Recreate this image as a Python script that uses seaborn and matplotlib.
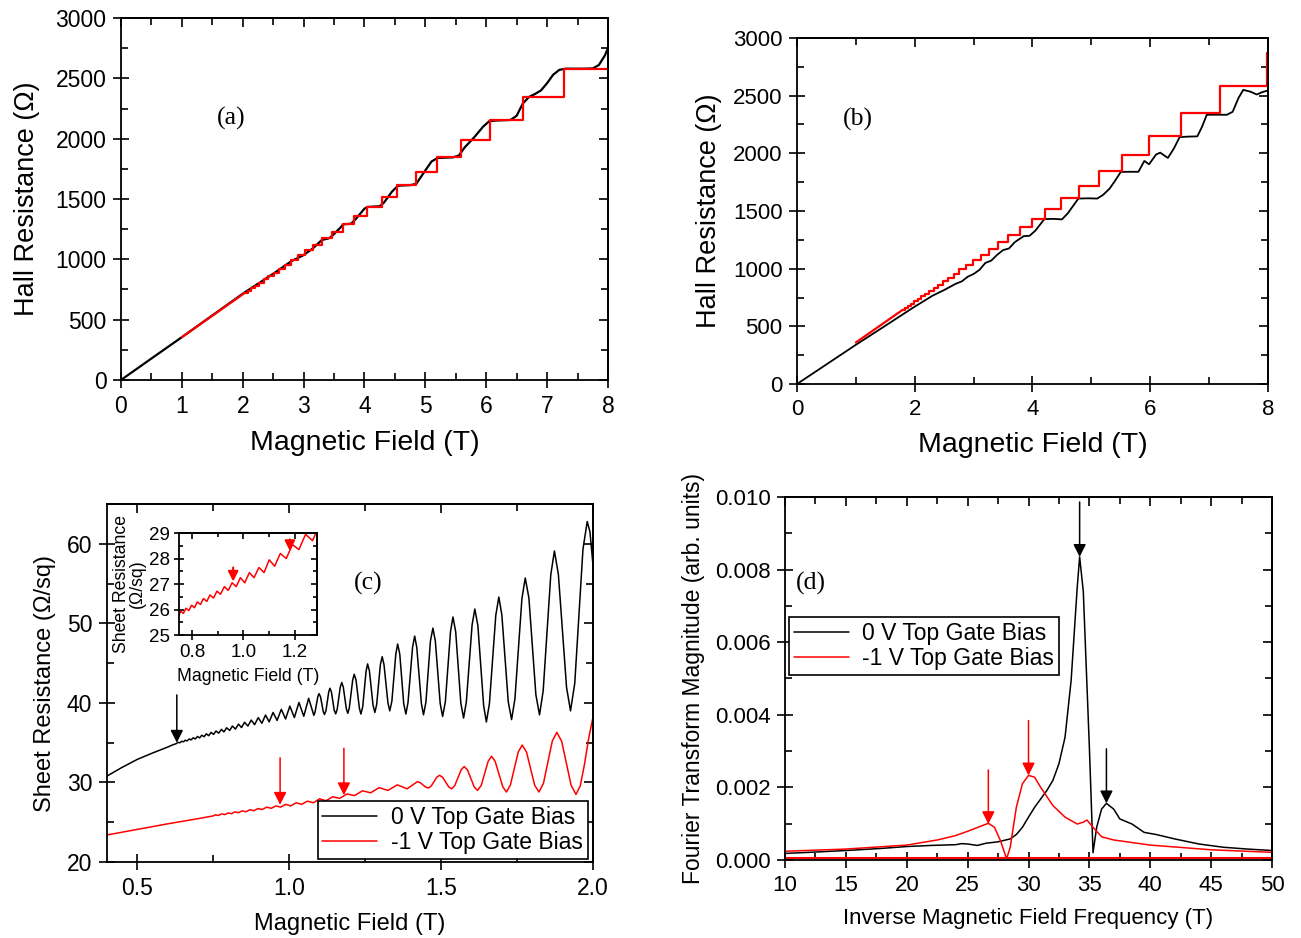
import numpy as np
import pandas as pd
import matplotlib
matplotlib.use("Agg")
import matplotlib.pyplot as plt
import seaborn as sns
from matplotlib.ticker import MultipleLocator, FormatStrFormatter

# ---------------- Panel (a) ----------------
a_black_B = [0.0, 0.5, 1.0, 1.5, 2.0, 2.5, 2.8, 3.0, 3.15, 3.3, 3.42, 3.47, 3.6, 3.65, 3.78, 3.85,
             4.0, 4.05, 4.25, 4.32, 4.45, 4.55, 4.75, 4.85, 4.95, 5.1, 5.2, 5.45, 5.55, 5.65, 5.8,
             5.95, 6.05, 6.15, 6.4, 6.5, 6.6, 6.7, 6.8, 6.9, 7.0, 7.1, 7.2, 7.3, 7.6, 7.75, 7.85, 7.95, 8.0]
a_black_R = [0, 178, 355, 535, 715, 880, 985, 1035, 1090, 1160, 1175, 1195, 1260, 1290, 1295, 1330,
             1420, 1434, 1440, 1470, 1560, 1610, 1615, 1625, 1700, 1810, 1840, 1845, 1860, 1930, 2010,
             2100, 2145, 2150, 2155, 2190, 2290, 2345, 2370, 2400, 2460, 2530, 2570, 2580, 2580, 2582,
             2610, 2690, 2750]
a_red_line_B = [1.0, 2.02]
a_red_line_R = [355, 717]
a_red_step_B = [2.02, 2.08, 2.14, 2.20, 2.27, 2.35, 2.42, 2.51, 2.60, 2.69, 2.80, 2.91, 3.03, 3.16,
                3.30, 3.46, 3.64, 3.83, 4.04, 4.28, 4.54, 4.85, 5.19, 5.59, 6.06, 6.61, 7.27, 8.0]
a_red_step_R = [717, 738, 759, 782, 807, 833, 860, 890, 922, 956, 993, 1033, 1076, 1122,
                1173, 1229, 1291, 1359, 1434, 1518, 1613, 1721, 1844, 1986, 2151, 2347, 2581, 2581]

# ---------------- Panel (b) ----------------
b_black_B = [0, 1.0, 1.5, 2.0, 2.3, 2.5, 2.7, 2.8, 2.9, 3.0, 3.1, 3.2, 3.3, 3.4, 3.5, 3.6, 3.7, 3.85,
             3.95, 4.05, 4.2, 4.35, 4.5, 4.6, 4.78, 4.95, 5.1, 5.2, 5.31, 5.4, 5.5, 5.65, 5.8, 5.9,
             5.98, 6.1, 6.17, 6.3, 6.4, 6.5, 6.65, 6.8, 6.88, 6.96, 7.1, 7.3, 7.4, 7.5, 7.58, 7.7,
             7.81, 7.9, 8.0]
b_black_R = [0, 340, 505, 671, 765, 815, 870, 890, 930, 954, 990, 1050, 1070, 1120, 1161, 1175, 1230,
             1282, 1285, 1330, 1429, 1432, 1427, 1480, 1608, 1610, 1608, 1640, 1694, 1760, 1839, 1840,
             1840, 1934, 1905, 1990, 2006, 1960, 2040, 2141, 2145, 2147, 2230, 2334, 2335, 2334, 2360,
             2480, 2550, 2535, 2510, 2530, 2545]
b_red_line_B = [1.0, 1.80]
b_red_line_R = [360, 645]
b_red_step_B = [1.80, 1.84, 1.89, 1.94, 1.99, 2.05, 2.11, 2.18, 2.24, 2.32, 2.39, 2.48, 2.56, 2.66,
                2.76, 2.87, 2.99, 3.12, 3.26, 3.42, 3.59, 3.78, 3.99, 4.22, 4.49, 4.79, 5.13, 5.52,
                5.98, 6.53, 7.18, 7.98, 8.0]
b_red_step_R = [645, 662, 679, 698, 717, 738, 759, 782, 807, 833, 860, 890, 922, 956,
                993, 1033, 1076, 1122, 1173, 1229, 1291, 1359, 1434, 1518, 1613, 1721, 1844, 1986,
                2151, 2347, 2581, 2868, 2868]

# ---------------- Panel (c) ----------------
c_black_B = [0.40, 0.45, 0.50, 0.55, 0.60, 0.615,
             0.628, 0.634, 0.640, 0.646, 0.652, 0.658, 0.664, 0.671, 0.677, 0.684, 0.691, 0.698,
             0.705, 0.712, 0.720, 0.727, 0.735, 0.743, 0.751, 0.759, 0.768, 0.777, 0.785, 0.794,
             0.804, 0.813, 0.823, 0.833, 0.843, 0.853, 0.864, 0.875, 0.886, 0.898, 0.910, 0.922,
             0.934, 0.947, 0.960, 0.974, 0.988, 1.002, 1.017, 1.032, 1.048, 1.064,
             1.081, 1.085, 1.094, 1.098, 1.103, 1.112, 1.116, 1.121, 1.130, 1.134, 1.139, 1.148,
             1.153, 1.158, 1.168, 1.173, 1.178, 1.188, 1.193, 1.198, 1.209, 1.214, 1.220, 1.231,
             1.236, 1.242, 1.253, 1.258, 1.264, 1.276, 1.282, 1.288, 1.300, 1.306, 1.312, 1.325,
             1.331, 1.338, 1.351, 1.357, 1.364, 1.377, 1.384, 1.391, 1.406, 1.413, 1.420, 1.435,
             1.442, 1.450, 1.465, 1.473, 1.481, 1.497, 1.505, 1.514, 1.531, 1.539, 1.548, 1.565,
             1.574, 1.583, 1.602, 1.611, 1.621, 1.640, 1.649, 1.659, 1.680, 1.690, 1.700, 1.721,
             1.732, 1.743, 1.766, 1.777, 1.789, 1.812, 1.824, 1.836, 1.861, 1.873, 1.886, 1.913,
             1.926, 1.940, 1.967, 1.981, 1.990, 2.000]
c_black_R = [30.8, 31.9, 32.9, 33.7, 34.45, 34.70,
             34.88, 35.04, 34.99, 35.18, 35.11, 35.31, 35.22, 35.47, 35.35, 35.61, 35.47, 35.78,
             35.60, 35.93, 35.75, 36.11, 35.88, 36.29, 36.04, 36.47, 36.20, 36.68, 36.35, 36.87,
             36.54, 37.09, 36.71, 37.33, 36.90, 37.56, 37.09, 37.84, 37.26, 38.15, 37.44, 38.47,
             37.62, 38.80, 37.80, 39.19, 37.98, 39.59, 38.16, 40.05, 38.32, 40.58,
             38.44, 38.84, 40.76, 41.16, 40.78, 38.92, 38.54, 39.02, 41.36, 41.84, 41.37, 39.09,
             38.62, 39.20, 41.98, 42.56, 41.99, 39.26, 38.69, 39.41, 42.88, 43.60, 42.87, 39.33,
             38.60, 39.52, 43.98, 44.90, 44.01, 39.69, 38.80, 39.82, 44.78, 45.80, 44.81, 39.99,
             39.00, 40.23, 46.17, 47.40, 46.12, 39.88, 38.60, 40.03, 46.97, 48.40, 46.95, 39.95,
             38.50, 40.09, 47.81, 49.40, 47.78, 39.92, 38.30, 40.13, 48.97, 50.80, 48.95, 39.95,
             38.10, 40.10, 49.80, 51.80, 49.73, 39.67, 37.60, 39.89, 51.01, 53.30, 51.05, 40.15,
             37.90, 40.50, 53.10, 55.70, 53.19, 41.01, 38.50, 41.51, 56.09, 59.10, 56.17, 41.93,
             39.00, 42.47, 59.33, 62.80, 61.50, 57.30]
c_red_B = [0.40, 0.50, 0.60, 0.70, 0.75,
           0.757, 0.767, 0.777, 0.788, 0.799, 0.810, 0.821, 0.833, 0.845, 0.858, 0.870, 0.884,
           0.897, 0.911, 0.926, 0.941, 0.956, 0.972, 0.988, 1.005, 1.023, 1.041, 1.060, 1.080,
           1.100, 1.121, 1.143, 1.166, 1.190, 1.215, 1.241, 1.268, 1.296, 1.325, 1.356, 1.388,
           1.422, 1.431, 1.449, 1.458, 1.467, 1.486, 1.495, 1.505, 1.525, 1.535, 1.545, 1.566,
           1.576, 1.587, 1.609, 1.620, 1.632, 1.655, 1.666, 1.678, 1.703, 1.715, 1.728, 1.754,
           1.767, 1.781, 1.808, 1.822, 1.837, 1.866, 1.881, 1.897, 1.928, 1.944, 1.958, 1.972,
           1.986, 2.000]
c_red_R = [23.4, 24.1, 24.8, 25.45, 25.8,
           25.93, 25.85, 26.05, 25.96, 26.17, 26.07, 26.30, 26.20, 26.43, 26.32, 26.57, 26.45,
           26.72, 26.60, 26.90, 26.75, 27.05, 26.90, 27.25, 27.05, 27.45, 27.25, 27.65, 27.45,
           27.95, 27.70, 28.20, 28.00, 28.55, 28.35, 28.95, 28.70, 29.35, 29.00, 29.70, 29.20,
           30.10, 29.98, 29.42, 29.30, 29.53, 30.67, 30.90, 30.65, 29.45, 29.20, 29.61, 31.59,
           32.00, 31.56, 29.44, 29.00, 29.63, 32.67, 33.30, 32.64, 29.46, 28.80, 29.66, 33.84,
           34.70, 33.84, 29.66, 28.80, 29.90, 35.20, 36.30, 35.16, 29.64, 28.50, 29.56, 32.28,
           35.59, 38.20]

# ---------------- Panel (d) ----------------
d_black_f = [10, 12, 15, 18, 20, 22, 24, 24.5, 25, 25.8, 26.5, 27.5, 28.5, 29.0, 29.5, 30, 30.5, 31,
             31.5, 32, 32.5, 33, 33.5, 34, 34.2, 34.5, 35, 35.3, 35.6, 36, 36.4, 37, 37.5, 38.5,
             39.5, 40.5, 42, 44, 46, 48, 50]
d_black_M = [0.00018, 0.00021, 0.00026, 0.00032, 0.00037, 0.00040, 0.00042, 0.00045, 0.00044,
             0.00040, 0.00046, 0.00050, 0.00058, 0.00070, 0.00090, 0.00118, 0.00145, 0.00168,
             0.00191, 0.00219, 0.00265, 0.00338, 0.00494, 0.00750, 0.00835, 0.00740, 0.00310,
             0.00020, 0.00090, 0.00140, 0.00156, 0.00140, 0.00113, 0.00099, 0.00076, 0.00070,
             0.00058, 0.00044, 0.00035, 0.00030, 0.00026]
d_red_f = [10, 15, 20, 22.5, 24, 25, 26, 26.7, 27.2, 27.7, 28.2, 28.5, 29, 29.5, 30, 30.5, 31, 32,
           33, 34, 34.5, 34.8, 35.3, 36, 37, 40, 45, 50]
d_red_M = [0.00024, 0.00030, 0.00041, 0.00055, 0.00067, 0.00079, 0.00092, 0.00101, 0.00090,
           0.00053, 0.00003, 0.00035, 0.00145, 0.00210, 0.00233, 0.00228, 0.00200, 0.00150,
           0.00118, 0.00099, 0.00104, 0.00110, 0.00090, 0.00064, 0.00055, 0.00041, 0.00028, 0.00021]
d_red_baseline = 0.00005

legend_labels = ["0 V Top Gate Bias", "-1 V Top Gate Bias"]

# ---------------- style ----------------
sns.set_style("ticks")
plt.rcParams.update({
    "axes.edgecolor": "black", "xtick.color": "black", "ytick.color": "black",
    "text.color": "black", "axes.labelcolor": "black", "axes.linewidth": 1.3,
})
plt.rcParams['font.family'] = ['Liberation Sans', 'DejaVu Sans']

fig = plt.figure(figsize=(13.01, 9.38), dpi=100)
axA = fig.add_axes([0.0930, 0.5949, 0.3743, 0.3859])
axB = fig.add_axes([0.6126, 0.5906, 0.3620, 0.3689])
axC = fig.add_axes([0.0822, 0.0810, 0.3736, 0.3817])
axD = fig.add_axes([0.6034, 0.0832, 0.3743, 0.3870])
axIn = fig.add_axes([0.1376, 0.3230, 0.1060, 0.1087])


def style(ax, xmaj, xmin, ymaj, ymin, fs, maj=11, mnr=5, pad=5):
    ax.xaxis.set_major_locator(MultipleLocator(xmaj))
    ax.xaxis.set_minor_locator(MultipleLocator(xmin))
    ax.yaxis.set_major_locator(MultipleLocator(ymaj))
    ax.yaxis.set_minor_locator(MultipleLocator(ymin))
    ax.tick_params(which='major', direction='inout', length=maj, width=1.2, labelsize=fs, pad=pad)
    ax.tick_params(which='minor', direction='in', length=mnr, width=1.2)
    for s in ax.spines.values():
        s.set_visible(True)
        s.set_linewidth(1.3)
    sx = ax.secondary_xaxis('top')
    sx.xaxis.set_major_locator(MultipleLocator(xmaj))
    sx.xaxis.set_minor_locator(MultipleLocator(xmin))
    sx.tick_params(which='major', direction='in', length=maj * 0.6, width=1.2, labeltop=False)
    sx.tick_params(which='minor', direction='in', length=mnr, width=1.2)
    sy = ax.secondary_yaxis('right')
    sy.yaxis.set_major_locator(MultipleLocator(ymaj))
    sy.yaxis.set_minor_locator(MultipleLocator(ymin))
    sy.tick_params(which='major', direction='in', length=maj * 0.6, width=1.2, labelright=False)
    sy.tick_params(which='minor', direction='in', length=mnr, width=1.2)


def line(ax, x, y, color, lw, **kw):
    sns.lineplot(x=x, y=y, ax=ax, color=color, lw=lw, estimator=None, sort=False, **kw)


def arrow(ax, x, y_tail, y_tip, color, ms=10, lw=1.1):
    ax.annotate("", xy=(x, y_tip), xytext=(x, y_tail),
                arrowprops=dict(arrowstyle="-|>,head_width=0.38,head_length=0.75", color=color,
                                lw=lw, shrinkA=0, shrinkB=0, mutation_scale=ms))

# ---- (a)
line(axA, a_black_B, a_black_R, "black", 1.6)
line(axA, a_red_line_B, a_red_line_R, "red", 1.6)
line(axA, a_red_step_B, a_red_step_R, "red", 1.6, drawstyle="steps-post")
axA.set_xlim(0, 8)
axA.set_ylim(0, 3000)
style(axA, 1, 0.5, 500, 250, 16.5)
axA.set_xlabel("Magnetic Field (T)", fontsize=20.5, labelpad=9)
axA.set_ylabel("Hall Resistance (Ω)", fontsize=19.5, labelpad=11)
axA.text(0.227, 0.722, "(a)", transform=axA.transAxes, fontsize=18.5,
         family=['Liberation Serif'], ha='center', va='center')

# ---- (b)
line(axB, b_black_B, b_black_R, "black", 1.3)
line(axB, b_red_line_B, b_red_line_R, "red", 1.6)
line(axB, b_red_step_B, b_red_step_R, "red", 1.6, drawstyle="steps-post")
axB.set_xlim(0, 8)
axB.set_ylim(0, 3000)
style(axB, 2, 1, 500, 250, 16)
axB.set_xlabel("Magnetic Field (T)", fontsize=20.5, labelpad=9)
axB.set_ylabel("Hall Resistance (Ω)", fontsize=19.5, labelpad=8)
axB.text(0.13, 0.764, "(b)", transform=axB.transAxes, fontsize=18.5,
         family=['Liberation Serif'], ha='center', va='center')

# ---- (c)
line(axC, c_black_B, c_black_R, "black", 1.1, label=legend_labels[0])
line(axC, c_red_B, c_red_R, "red", 1.1, label=legend_labels[1])
axC.set_xlim(0.4, 2.0)
axC.set_ylim(20, 65)
style(axC, 0.5, 0.25, 10, 5, 16.5)
axC.xaxis.set_major_formatter(FormatStrFormatter('%.1f'))
axC.set_xlabel("Magnetic Field (T)", fontsize=17, labelpad=10)
axC.set_ylabel("Sheet Resistance (Ω/sq)", fontsize=17, labelpad=8)
axC.text(0.538, 0.779, "(c)", transform=axC.transAxes, fontsize=18.5,
         family=['Liberation Serif'], ha='center', va='center')
arrow(axC, 0.63, 41.0, 35.0, "black")
arrow(axC, 0.97, 33.1, 27.2, "red")
arrow(axC, 1.18, 34.3, 28.4, "red")
legC = axC.legend(loc='lower right', bbox_to_anchor=(0.989, 0.009), fontsize=16.5, frameon=True,
                  fancybox=False, edgecolor='black', framealpha=1, handlelength=2.4,
                  borderpad=0.2, labelspacing=0.1, handletextpad=0.6, borderaxespad=0)
legC.get_frame().set_linewidth(1.2)

# ---- inset
line(axIn, c_red_B, c_red_R, "red", 1.1)
axIn.set_xlim(0.75, 1.285)
axIn.set_ylim(25, 29)
style(axIn, 0.2, 0.1, 1, 0.5, 13.5, maj=7, mnr=3, pad=3)
axIn.xaxis.set_major_formatter(FormatStrFormatter('%.1f'))
axIn.set_xlabel("Magnetic Field (T)", fontsize=12.7, labelpad=5)
axIn.set_ylabel("Sheet Resistance\n(Ω/sq)", fontsize=12.7, labelpad=2, linespacing=0.95)
arrow(axIn, 0.96, 27.65, 27.1, "red", ms=8, lw=1.5)
arrow(axIn, 1.18, 28.75, 28.3, "red", ms=8, lw=1.5)

# ---- (d)
axD.axhline(d_red_baseline, color="red", lw=1.5)
line(axD, d_black_f, d_black_M, "black", 1.1, label=legend_labels[0])
line(axD, d_red_f, d_red_M, "red", 1.1, label=legend_labels[1])
axD.set_xlim(10, 50)
axD.set_ylim(0, 0.010)
style(axD, 5, 2.5, 0.002, 0.001, 16)
axD.yaxis.set_major_formatter(FormatStrFormatter('%.3f'))
axD.set_xlabel("Inverse Magnetic Field Frequency (T)", fontsize=16, labelpad=9)
axD.set_ylabel("Fourier Transform Magnitude (arb. units)", fontsize=16.5, labelpad=7)
axD.text(0.053, 0.761, "(d)", transform=axD.transAxes, fontsize=18.5,
         family=['Liberation Serif'], ha='center', va='center')
arrow(axD, 34.2, 0.00986, 0.00835, "black")
arrow(axD, 36.4, 0.00306, 0.00156, "black")
arrow(axD, 26.7, 0.00248, 0.00099, "red")
arrow(axD, 30.0, 0.00384, 0.00233, "red")
legD = axD.legend(loc='upper left', bbox_to_anchor=(0.008, 0.669), fontsize=16.5, frameon=True,
                  fancybox=False, edgecolor='black', framealpha=1, handlelength=2.4,
                  borderpad=0.2, labelspacing=0.1, handletextpad=0.6, borderaxespad=0)
legD.get_frame().set_linewidth(1.2)

fig.savefig("out.png", dpi=100)
